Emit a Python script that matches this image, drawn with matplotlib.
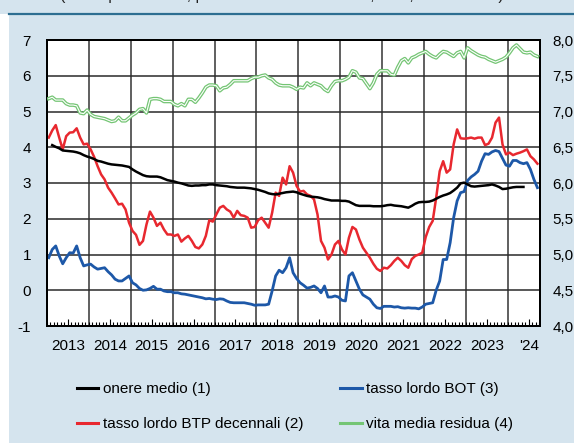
import matplotlib
matplotlib.use("Agg")
import matplotlib.pyplot as plt
from matplotlib.lines import Line2D
import numpy as np

plt.rcParams['font.family'] = ['Liberation Sans', 'DejaVu Sans']
plt.rcParams['axes.unicode_minus'] = False

# monthly data, first month = jan 2013
start_year = 2013

# onere medio starts one month later (feb 2013)
onere_medio = [4.06, 4.01, 3.97, 3.91, 3.90, 3.89, 3.88, 3.86, 3.83, 3.78, 3.74,
               3.71, 3.67, 3.62, 3.60, 3.57, 3.54, 3.52, 3.51, 3.50, 3.49, 3.47, 3.45,
               3.38, 3.32, 3.27, 3.22, 3.19, 3.18, 3.18, 3.18, 3.16, 3.12, 3.08, 3.06,
               3.04, 3.01, 2.99, 2.96, 2.93, 2.92, 2.93, 2.93, 2.94, 2.94, 2.96, 2.96,
               2.94, 2.93, 2.92, 2.91, 2.89, 2.88, 2.87, 2.87, 2.87, 2.86, 2.85, 2.83,
               2.81, 2.78, 2.75, 2.71, 2.69, 2.68, 2.70, 2.72, 2.74, 2.75, 2.76, 2.74,
               2.70, 2.67, 2.64, 2.62, 2.61, 2.60, 2.58, 2.55, 2.53, 2.51, 2.51, 2.51,
               2.50, 2.50, 2.48, 2.43, 2.38, 2.36, 2.36, 2.36, 2.36, 2.35, 2.35, 2.35,
               2.36, 2.38, 2.39, 2.37, 2.36, 2.35, 2.33, 2.31, 2.36, 2.42, 2.46, 2.47,
               2.47, 2.48, 2.51, 2.56, 2.61, 2.65, 2.68, 2.72, 2.79, 2.87, 2.99, 3.01,
               2.96, 2.91, 2.90, 2.91, 2.92, 2.93, 2.94, 2.96, 2.93, 2.89, 2.83, 2.84,
               2.86, 2.88, 2.89, 2.89, 2.89]

btp_decennali = [4.27, 4.47, 4.62, 4.27, 3.94, 4.31, 4.41, 4.42, 4.53, 4.27, 4.08, 4.10,
                 3.94, 3.73, 3.47, 3.24, 3.10, 2.87, 2.73, 2.57, 2.40, 2.42, 2.26, 1.89,
                 1.66, 1.55, 1.27, 1.38, 1.84, 2.20, 2.03, 1.80, 1.89, 1.70, 1.56, 1.56,
                 1.52, 1.56, 1.36, 1.45, 1.52, 1.38, 1.21, 1.17, 1.28, 1.52, 1.96, 1.92,
                 2.12, 2.31, 2.36, 2.26, 2.20, 2.03, 2.22, 2.10, 2.08, 2.03, 1.75, 1.77,
                 1.96, 2.03, 1.89, 1.75, 2.17, 2.73, 2.64, 3.15, 2.96, 3.47, 3.29, 2.92,
                 2.76, 2.78, 2.68, 2.64, 2.54, 2.12, 1.38, 1.19, 0.86, 1.00, 1.28, 1.38,
                 1.14, 1.00, 1.47, 1.77, 1.70, 1.42, 1.19, 1.05, 0.91, 0.74, 0.60, 0.54,
                 0.63, 0.61, 0.70, 0.82, 0.91, 0.82, 0.70, 0.63, 0.87, 0.96, 1.00, 1.05,
                 1.49, 1.77, 1.94, 2.59, 3.33, 3.61, 3.29, 3.38, 4.08, 4.50, 4.25, 4.24,
                 4.25, 4.27, 4.24, 4.27, 4.27, 4.06, 4.10, 4.27, 4.69, 4.83, 4.08, 3.80,
                 3.85, 3.78, 3.82, 3.85, 3.89, 3.94, 3.75, 3.66, 3.54]

bot = [0.91, 1.14, 1.24, 0.96, 0.74, 0.91, 1.05, 1.04, 1.24, 0.91, 0.68, 0.71,
       0.73, 0.65, 0.59, 0.61, 0.63, 0.52, 0.43, 0.31, 0.26, 0.26, 0.33, 0.40,
       0.21, 0.15, 0.05, 0.00, 0.01, 0.05, 0.11, 0.03, 0.03, -0.02, -0.04, -0.04,
       -0.07, -0.07, -0.10, -0.11, -0.13, -0.15, -0.17, -0.19, -0.21, -0.24, -0.23, -0.25,
       -0.26, -0.24, -0.25, -0.30, -0.34, -0.35, -0.35, -0.35, -0.35, -0.37, -0.39, -0.42,
       -0.41, -0.41, -0.41, -0.39, -0.02, 0.40, 0.56, 0.49, 0.63, 0.91, 0.49, 0.33,
       0.21, 0.14, 0.06, 0.08, 0.12, 0.05, -0.07, 0.12, -0.19, -0.19, -0.16, -0.19,
       -0.28, -0.30, 0.40, 0.49, 0.26, 0.03, -0.13, -0.19, -0.25, -0.39, -0.49, -0.51,
       -0.45, -0.45, -0.45, -0.47, -0.46, -0.49, -0.50, -0.49, -0.50, -0.50, -0.52, -0.47,
       -0.39, -0.37, -0.35, 0.00, 0.26, 0.86, 0.86, 1.33, 2.03, 2.50, 2.73, 2.76,
       3.07, 3.17, 3.24, 3.33, 3.61, 3.82, 3.80, 3.87, 3.91, 3.88, 3.69, 3.50,
       3.47, 3.63, 3.63, 3.57, 3.54, 3.57, 3.38, 3.10, 2.87]

# right axis (anni)
vita_media = [7.18, 7.20, 7.16, 7.16, 7.16, 7.11, 7.09, 7.09, 7.08, 6.98, 6.97, 7.02,
              6.96, 6.93, 6.92, 6.91, 6.90, 6.88, 6.86, 6.87, 6.92, 6.87, 6.87, 6.91,
              6.95, 6.98, 7.03, 7.04, 6.98, 7.17, 7.18, 7.18, 7.17, 7.14, 7.14, 7.14,
              7.10, 7.08, 7.11, 7.08, 7.17, 7.17, 7.13, 7.19, 7.26, 7.34, 7.37, 7.37,
              7.36, 7.29, 7.33, 7.34, 7.38, 7.43, 7.43, 7.43, 7.43, 7.43, 7.46, 7.48,
              7.48, 7.50, 7.51, 7.47, 7.45, 7.40, 7.37, 7.36, 7.36, 7.36, 7.34, 7.31,
              7.34, 7.33, 7.40, 7.36, 7.40, 7.38, 7.36, 7.31, 7.28, 7.36, 7.42, 7.43,
              7.43, 7.45, 7.48, 7.57, 7.55, 7.47, 7.46, 7.39, 7.32, 7.40, 7.52, 7.57,
              7.57, 7.57, 7.52, 7.51, 7.62, 7.71, 7.74, 7.68, 7.75, 7.77, 7.80, 7.82,
              7.84, 7.80, 7.77, 7.75, 7.80, 7.84, 7.83, 7.80, 7.77, 7.82, 7.84, 7.75,
              7.89, 7.85, 7.82, 7.79, 7.77, 7.76, 7.73, 7.71, 7.69, 7.71, 7.73, 7.76,
              7.82, 7.89, 7.93, 7.88, 7.83, 7.82, 7.83, 7.79, 7.77]

year_labels = ['2013', '2014', '2015', '2016', '2017', '2018', '2019',
               '2020', '2021', '2022', '2023', "'24"]
left_ticks = [-1, 0, 1, 2, 3, 4, 5, 6, 7]
right_ticks = [4.0, 4.5, 5.0, 5.5, 6.0, 6.5, 7.0, 7.5, 8.0]

labels = ['onere medio (1)', 'tasso lordo BTP decennali (2)',
          'tasso lordo BOT (3)', 'vita media residua (4)']

bg = '#d5e4ee'
red = '#e8282f'
blue = '#1d58a8'
green = '#74c574'


def month_x(n, offset=0):
    return start_year + (np.arange(n) + offset + 0.5) / 12.0


fig = plt.figure(figsize=(5.74, 4.43), dpi=100, facecolor='white')

# light blue panel and the rule under the (cut) heading
fig.patches.append(plt.Rectangle((0, 1 - 14 / 443), 1, 14 / 443, transform=fig.transFigure,
                                 facecolor=bg, edgecolor='none', zorder=-10))
fig.patches.append(plt.Rectangle((9 / 574, 0), 1, 1 - 14 / 443, transform=fig.transFigure,
                                 facecolor=bg, edgecolor='none', zorder=-10))
fig.lines.append(Line2D([9 / 574, 1], [1 - 14 / 443, 1 - 14 / 443], transform=fig.transFigure,
                        color='#2d6e91', lw=1.6, zorder=-5))
# heading line sits above the picture, only its descenders show
fig.text(60 / 574, 1.0,
         '(valori percentuali; per la vita media residua, anni; dati mensili)',
         fontsize=11.5, va='baseline', ha='left', color='#222222')

ax = fig.add_axes([47 / 574, 1 - 326 / 443, 493 / 574, 286 / 443])
ax.set_facecolor('white')
ax2 = ax.twinx()

x_end = 2024.77
ax.set_xlim(start_year, x_end)
ax.set_ylim(-1, 7)
ax2.set_ylim(4, 8)

# grid: years and integer values
for yr in range(start_year + 1, 2025):
    ax.axvline(yr, color='#444444', lw=1.2, zorder=1)
for v in left_ticks[1:-1]:
    ax.axhline(v, color='#2a2a2a', lw=1.1, zorder=1)

ax.plot(month_x(len(btp_decennali)), btp_decennali, color=red, lw=1.8, zorder=3)
ax.plot(month_x(len(bot)), bot, color=blue, lw=2.0, zorder=4)
ax.plot(month_x(len(onere_medio), 1), onere_medio, color='black', lw=1.8, zorder=5)
ax2.plot(month_x(len(vita_media)), vita_media, color=green, lw=2.6, zorder=3)
ax2.plot(month_x(len(vita_media)), vita_media, color='white', lw=0.8, zorder=4)

# x ticks: labels at mid-year, monthly minor ticks inside
mid_years = [start_year + i + 0.5 for i in range(len(year_labels))]
ax.set_xticks(mid_years)
ax.set_xticklabels(year_labels, fontsize=11)
months = np.arange(start_year, x_end, 1 / 12.0)
ax.set_xticks(months, minor=True)
ax.tick_params(axis='x', which='major', direction='in', length=5, width=0.8, pad=9)
ax.tick_params(axis='x', which='minor', direction='in', length=3, width=0.8)

ax.set_yticks(left_ticks)
ax.set_yticklabels([str(v) for v in left_ticks], fontsize=11)
ax.tick_params(axis='y', length=0, pad=11.5)
ax2.set_yticks(right_ticks)
ax2.set_yticklabels([('%.1f' % v).replace('.', ',') for v in right_ticks], fontsize=11)
ax2.tick_params(axis='y', length=0, pad=9)

for a in (ax, ax2):
    for s in a.spines.values():
        s.set_linewidth(1.4)
        s.set_color('black')

handles = [Line2D([], [], color='black', lw=2.2),
           Line2D([], [], color=red, lw=2.2),
           Line2D([], [], color=blue, lw=2.2),
           Line2D([], [], color=green, lw=2.2)]
fig.legend(handles, labels, loc='upper left', bbox_to_anchor=(77 / 574, 1 - 382 / 443),
           ncol=2, frameon=False, fontsize=11, handlelength=1.4, handletextpad=0.3,
           columnspacing=2.4, labelspacing=1.4, borderpad=0, borderaxespad=0)

fig.savefig('out.png', dpi=100, facecolor=fig.get_facecolor())
